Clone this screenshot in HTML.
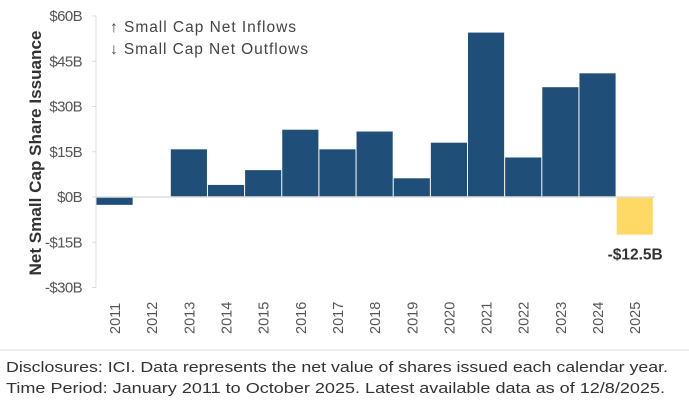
<!DOCTYPE html>
<html><head><meta charset="utf-8"><style>
body{margin:0;background:#fff;font-family:"Liberation Sans",Arial,sans-serif}
svg text{font-family:"Liberation Sans",Arial,sans-serif}
</style></head><body>
<svg id="c" width="689" height="413">
<text x="110" y="32" font-size="15.5" fill="#444" textLength="186" lengthAdjust="spacing">↑ Small Cap Net Inflows</text>
<text x="110" y="54" font-size="15.5" fill="#444" textLength="198" lengthAdjust="spacing">↓ Small Cap Net Outflows</text>
<text transform="translate(41,153) rotate(-90)" text-anchor="middle" font-size="16.5" font-weight="bold" fill="#333" textLength="245" lengthAdjust="spacingAndGlyphs">Net Small Cap Share Issuance</text>
<text x="6" y="372" font-size="14.5" fill="#333" textLength="662" lengthAdjust="spacingAndGlyphs">Disclosures: ICI. Data represents the net value of shares issued each calendar year.</text>
<text x="6" y="393" font-size="14.5" fill="#333" textLength="659" lengthAdjust="spacingAndGlyphs">Time Period: January 2011 to October 2025. Latest available data as of 12/8/2025.</text>
<line x1="0" y1="350" x2="689" y2="350" stroke="#ddd"/>
</svg>
<script>
const years=['2011','2012','2013','2014','2015','2016','2017','2018','2019','2020','2021','2022','2023','2024','2025'];
const values=[-2.6,0,15.8,4,8.9,22.3,15.8,21.7,6.2,18,54.5,13.1,36.4,41,-12.5];
const ticks=[60,45,30,15,0,-15,-30];
const tickLabels=['$60B','$45B','$30B','$15B','$0B','-$15B','-$30B'];
const svg=document.getElementById('c');const NS='http://www.w3.org/2000/svg';
const x0=96.5,step=37.15;
const y=v=>197-v*(181/60);
function mk(t,a){const e=document.createElementNS(NS,t);for(const k in a)e.setAttribute(k,a[k]);svg.appendChild(e);return e;}
const ax=mk('line',{x1:96,y1:y(60),x2:96,y2:y(-30),stroke:'#ddd'});


ticks.forEach((t,i)=>{
 const tk=mk('line',{x1:92,x2:96,y1:y(t),y2:y(t),stroke:'#ddd'});
 
 
 const tx=mk('text',{x:82,y:y(t)+5,'text-anchor':'end','font-size':15,fill:'#555','letter-spacing':'-0.6'});
 tx.textContent=tickLabels[i];
 
 
});
years.forEach((yr,i)=>{
 const v=values[i];const bx=x0+i*step;
 if(v!==0){
  const r=mk('rect',{x:bx,y:Math.min(y(v),y(0)),width:step-1,height:Math.abs(y(v)-y(0)),fill:i===years.length-1?'#ffd966':'#1f4e79'});
  
  
 }
 const cx=bx+step/2;
 const t=mk('text',{transform:`translate(${cx+5},334) rotate(-90)`,'font-size':14.5,fill:'#555'});
 t.textContent=yr;
 
 
});
const zl=mk('line',{x1:96,x2:655,y1:y(0),y2:y(0),stroke:'#ddd','stroke-width':1.5});


const li=years.length-1;
const lbl=mk('text',{x:x0+li*step+step/2,y:y(values[li])+25,'text-anchor':'middle','font-size':15.5,'font-weight':'bold',fill:'#333'});
lbl.textContent='-$'+Math.abs(values[li])+'B';


</script>
</body></html>
